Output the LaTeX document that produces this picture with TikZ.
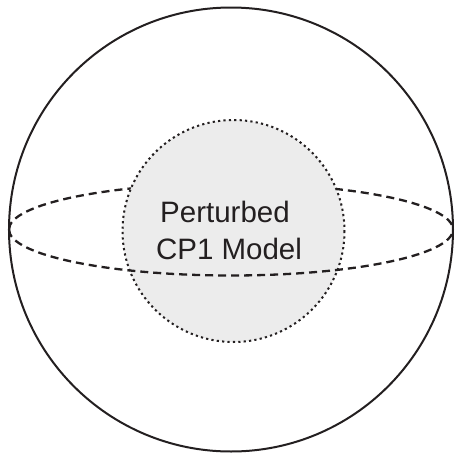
\documentclass[tikz,border=0pt]{standalone}
\usepackage{fontspec}
\setmainfont{Liberation Sans}
\definecolor{ink}{HTML}{231F20}
\definecolor{diskfill}{HTML}{ECECEC}
\begin{document}
\begin{tikzpicture}[x=1pt,y=-1pt,
  outer/.style={draw=ink,line width=2pt},
  eqdash/.style={draw=ink,line width=2.3pt,dash pattern=on 8pt off 5pt},
  disk/.style={fill=diskfill,draw=ink,line width=2pt,dash pattern=on 2.2pt off 3.2pt},
  lbl/.style={text=ink,font=\fontsize{29.5}{35}\selectfont,inner sep=0pt,anchor=base}]
\useasboundingbox (0,0) rectangle (455,456);
\coordinate (c) at (231,229.5);
\coordinate (d) at (233.5,231);
\coordinate (w) at (9,229.5);
\draw[outer] (c) circle[radius=222];
\draw[eqdash] (w) arc[start angle=180,end angle=360,x radius=222,y radius=46];
\path[disk] (d) circle[radius=111];
\draw[eqdash] (w) arc[start angle=180,end angle=0,x radius=222,y radius=46];
\node[lbl] (t1) at (225,222) {Perturbed};
\node[lbl] (t2) at (229,259) {CP1 Model};
\end{tikzpicture}
\end{document}
